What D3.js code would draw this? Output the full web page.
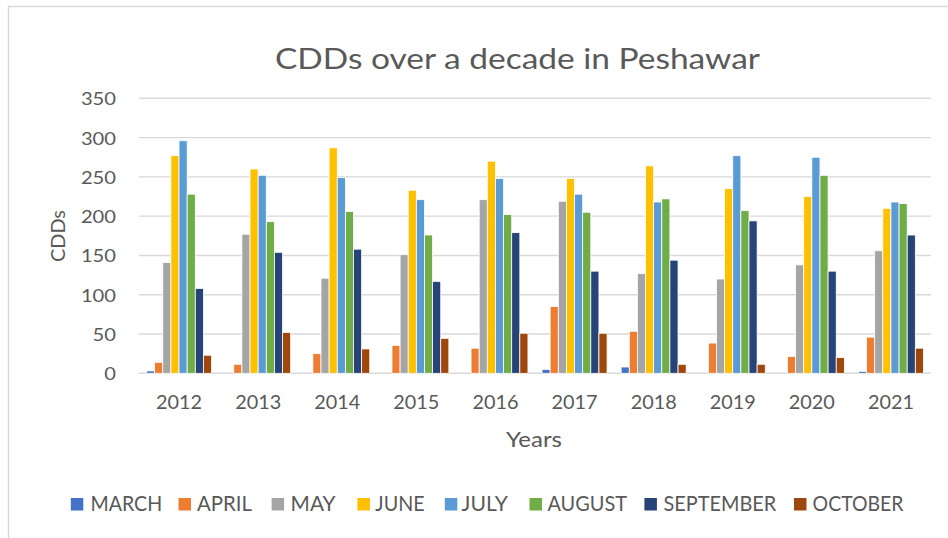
<!DOCTYPE html>
<html><head><meta charset="utf-8">
<script src="https://cdn.jsdelivr.net/npm/d3@7"></script>
<style>html,body{margin:0;padding:0;background:#fff;}svg{display:block;}</style>
</head><body>
<script>
const years = ['2012','2013','2014','2015','2016','2017','2018','2019','2020','2021'];
const months = ['MARCH','APRIL','MAY','JUNE','JULY','AUGUST','SEPTEMBER','OCTOBER'];
const march     = [3, 0, 0, 0, 0, 5, 8, 0, 0, 2.5];
const april     = [14, 11.5, 25, 35.5, 32, 85, 53.5, 38.5, 21.5, 46];
const may       = [141, 177, 121, 151, 221, 219, 127, 120, 138, 156];
const june      = [277, 260, 287, 233, 270, 248, 264, 235, 225, 210];
const july      = [296, 252, 249, 221, 248, 228, 218, 277, 275, 218];
const august    = [228, 193, 206, 176, 202, 205, 222, 207, 252, 216];
const september = [108, 154, 158, 117, 179, 130, 144, 194, 130, 176];
const october   = [23, 52, 31, 44.5, 51, 51, 11.5, 11.5, 20, 32];
const yTicks = [0, 50, 100, 150, 200, 250, 300, 350];
const colors = ['#4472C4','#ED7D31','#A5A5A5','#FFC000','#5B9BD5','#70AD47','#264478','#9E480E'];

const seriesVals = [march, april, may, june, july, august, september, october];
const W = 948, H = 538;
const font = 'Lato, "Open Sans", sans-serif';
const txt = '#595959';

const svg = d3.select('body').append('svg').attr('width', W).attr('height', H);
svg.append('rect').attr('x', 8.5).attr('y', 6.5).attr('width', W + 10).attr('height', H + 10)
  .attr('fill', '#fff').attr('stroke', '#d9d9d9').attr('stroke-width', 1.5);

const x0 = d3.scaleBand().domain(years).range([139.5, 930.5]).paddingInner(0.178).paddingOuter(0.089);
const x1 = d3.scaleBand().domain(months).range([0, x0.bandwidth()]);
const y = d3.scaleLinear().domain([0, 350]).range([373.3, 98.3]);

// gridlines
svg.append('g').selectAll('line').data(yTicks).join('line')
  .attr('x1', 139).attr('x2', 931)
  .attr('y1', d => y(d)).attr('y2', d => y(d))
  .attr('stroke', '#d9d9d9').attr('stroke-width', 1.4);

// y tick labels
svg.append('g').selectAll('text').data(yTicks).join('text')
  .attr('x', 116).attr('y', d => y(d) + 7)
  .attr('text-anchor', 'end').attr('font-family', font).attr('font-size', 18).attr('fill', txt)
  .attr('textLength', d => String(d).length * 11.7).attr('lengthAdjust', 'spacingAndGlyphs')
  .text(d => d);

// bars
const data = years.map((yr, i) => ({year: yr, vals: months.map((m, j) => ({m, v: seriesVals[j][i], c: colors[j]}))}));
const g = svg.append('g').selectAll('g').data(data).join('g')
  .attr('transform', d => `translate(${x0(d.year)},0)`);
g.selectAll('rect').data(d => d.vals.filter(e => e.v > 0)).join('rect')
  .attr('x', d => x1(d.m)).attr('width', x1.bandwidth())
  .attr('y', d => y(d.v)).attr('height', d => y(0) - y(d.v))
  .attr('fill', d => d.c).attr('stroke', '#fff').attr('stroke-width', 0.8);

// x labels
svg.append('g').selectAll('text').data(years).join('text')
  .attr('x', d => x0(d) + x0.bandwidth() / 2).attr('y', 409)
  .attr('text-anchor', 'middle').attr('font-family', font).attr('font-size', 19.5).attr('fill', txt)
  .attr('textLength', 46).attr('lengthAdjust', 'spacingAndGlyphs')
  .text(d => d);

// title
svg.append('text').attr('x', 517.5).attr('y', 69).attr('text-anchor', 'middle')
  .attr('font-family', font).attr('font-size', 29).attr('fill', txt)
  .attr('textLength', 485).attr('lengthAdjust', 'spacingAndGlyphs')
  .text('CDDs over a decade in Peshawar');

// axis titles
svg.append('text').attr('x', 534).attr('y', 446.5).attr('text-anchor', 'middle')
  .attr('font-family', font).attr('font-size', 21).attr('fill', txt)
  .attr('textLength', 56).attr('lengthAdjust', 'spacingAndGlyphs')
  .text('Years');
svg.append('text').attr('transform', 'translate(65,236) rotate(-90)').attr('text-anchor', 'middle')
  .attr('font-family', font).attr('font-size', 19).attr('fill', txt)
  .attr('textLength', 52).attr('lengthAdjust', 'spacingAndGlyphs')
  .text('CDDs');

// legend
const legSq = [70.8, 178.5, 271.6, 357.4, 444.8, 529.5, 644.4, 794];
const legTx = [90.5, 197, 290.6, 375.3, 461.6, 547.4, 663.5, 812.6];
const legEnd = [162.2, 252, 335.5, 424.6, 508, 627, 776.2, 903.5];
const lg = svg.append('g');
months.forEach((m, i) => {
  lg.append('rect').attr('x', legSq[i]).attr('y', 498).attr('width', 12.5).attr('height', 12.5).attr('fill', colors[i]);
  lg.append('text').attr('x', legTx[i]).attr('y', 510.7)
    .attr('font-family', font).attr('font-size', 21.5).attr('fill', txt)
    .attr('textLength', legEnd[i] - legTx[i]).attr('lengthAdjust', 'spacingAndGlyphs')
    .text(m);
});
</script>
</body></html>
